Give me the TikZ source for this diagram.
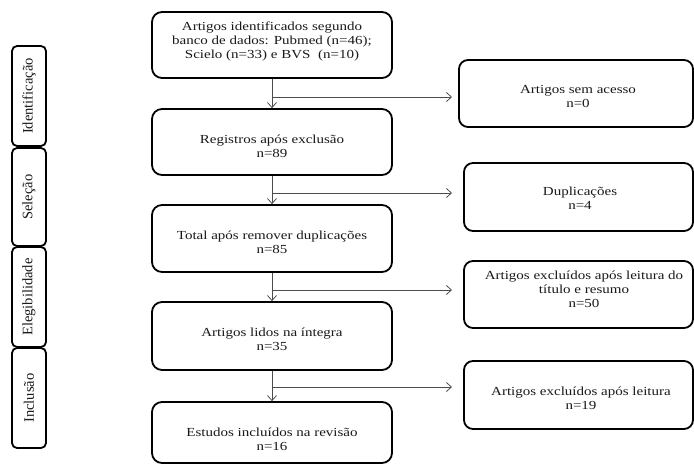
\documentclass[tikz,border=0pt]{standalone}
\usepackage{fontspec}
\setmainfont{Liberation Serif}
\newfontfamily\wfont[FakeStretch=1.22]{Liberation Serif}
\usetikzlibrary{arrows.meta}
\begin{document}
\begin{tikzpicture}[x=1pt,y=-1pt,
  box/.style={draw=black, line width=1.8pt, rounded corners=10pt, inner sep=0pt},
  rbox/.style={box, rounded corners=9pt},
  txt/.style={align=center, inner sep=0pt, text=black!90,
    font=\wfont\fontsize{12.3}{14}\selectfont},
  side/.style={draw=black, line width=1.8pt, rounded corners=5pt, inner sep=0pt,
    rotate=90, minimum height=34pt, text=black!90, font=\fontsize{14.5}{14}\selectfont},
  conn/.style={draw=black!70, line width=0.8pt},
  arr/.style={conn, -{Straight Barb[length=5pt,width=9pt]}}
]
\useasboundingbox (0,0) rectangle (694,466);

% side labels
\node[side, minimum width=100pt] (s1) at (29,96) {Identificação};
\node[side, minimum width=98pt] (s2) at (29,197) {Seleção};
\node[side, minimum width=100pt] (s3) at (29,297) {Elegibilidade};
\node[side, minimum width=100pt] (s4) at (29,398) {Inclusão};

% main boxes
\node[box, minimum width=240pt, minimum height=66pt] (b1) at (272,45) {};
\node[box, minimum width=240pt, minimum height=66pt] (b2) at (272,142) {};
\node[box, minimum width=240pt, minimum height=67pt] (b3) at (272,238.5) {};
\node[box, minimum width=240pt, minimum height=68pt] (b4) at (272,336) {};
\node[box, minimum width=240pt, minimum height=61pt] (b5) at (272,432.5) {};

\node[txt] (b1t) at (272,41.5)
  {Artigos identificados segundo\\banco de dados: Pubmed (n=46);\\Scielo (n=33) e BVS \ (n=10)};
\node[txt] (b2t) at (272,146.5) {Registros após exclusão\\n=89};
\node[txt] (b3t) at (272,242.5) {Total após remover duplicações\\n=85};
\node[txt] (b4t) at (272,339.5) {Artigos lidos na íntegra\\n=35};
\node[txt] (b5t) at (272,439.5) {Estudos incluídos na revisão\\n=16};

% right boxes
\node[rbox, minimum width=234pt, minimum height=67pt] (r1) at (576,93.5) {};
\node[rbox, minimum width=229pt, minimum height=68pt] (r2) at (578.5,197) {};
\node[rbox, minimum width=229pt, minimum height=67pt] (r3) at (578.5,294.5) {};
\node[rbox, minimum width=229pt, minimum height=68pt] (r4) at (578.5,395) {};

\node[txt] (r1t) at (578,96.5) {Artigos sem acesso\\n=0};
\node[txt] (r2t) at (580,198.5) {Duplicações\\n=4};
\node[txt] (r3t) at (584,289.5) {Artigos excluídos após leitura do\\título e resumo\\n=50};
\node[txt] (r4t) at (581,398.5) {Artigos excluídos após leitura\\n=19};

% vertical flow
\draw[arr] (b1) -- (b2);
\draw[arr] (b2) -- (b3);
\draw[arr] (b3) -- (b4);
\draw[arr] (b4) -- (b5);

% branches
\coordinate (j1) at (272,97);  \coordinate (e1) at (452,97);
\coordinate (j2) at (272,193); \coordinate (e2) at (452,193);
\coordinate (j3) at (272,290); \coordinate (e3) at (452,290);
\coordinate (j4) at (272,387); \coordinate (e4) at (452,387);
\draw[arr] (j1) -- (e1);
\draw[arr] (j2) -- (e2);
\draw[arr] (j3) -- (e3);
\draw[arr] (j4) -- (e4);
\end{tikzpicture}
\end{document}
